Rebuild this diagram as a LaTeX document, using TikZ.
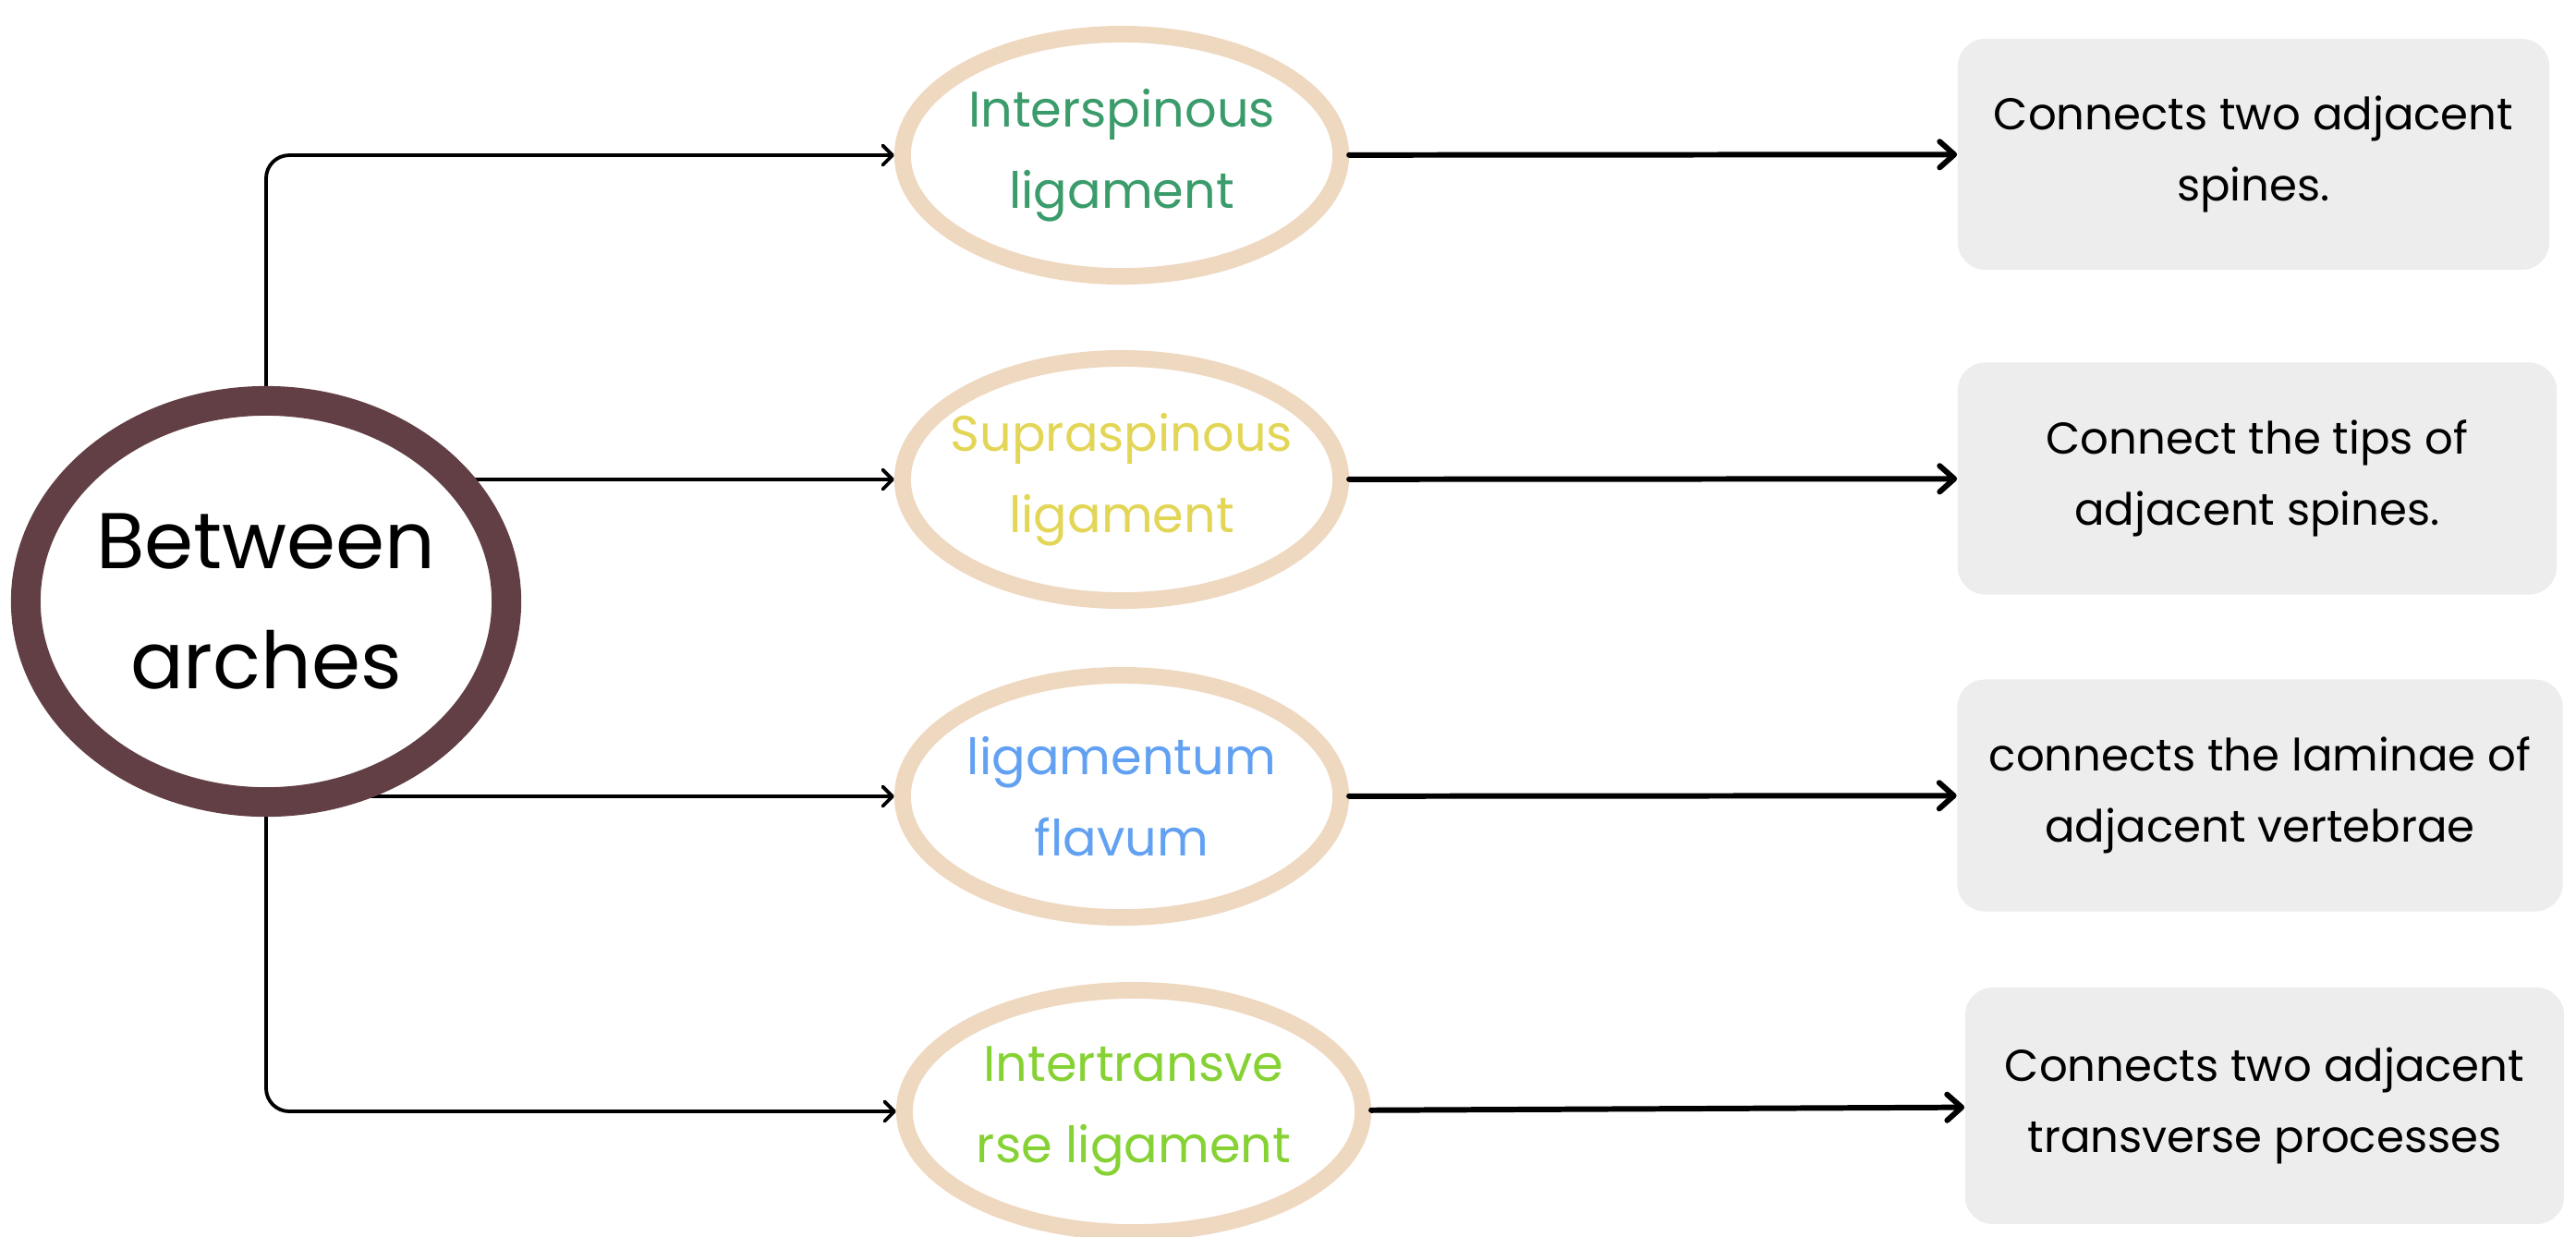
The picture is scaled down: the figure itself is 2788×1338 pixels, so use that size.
\documentclass[tikz,border=0pt]{standalone}
\usepackage{fontspec}
\setmainfont{Poppins}
\usetikzlibrary{shapes.geometric, arrows.meta, backgrounds}

\definecolor{archline}{RGB}{98,63,69}
\definecolor{peach}{RGB}{239,216,192}
\definecolor{boxgray}{RGB}{237,237,237}
\definecolor{ligA}{RGB}{58,155,107}
\definecolor{ligB}{RGB}{227,214,86}
\definecolor{ligC}{RGB}{98,161,242}
\definecolor{ligD}{RGB}{134,210,52}

\begin{document}
\begin{tikzpicture}[x=0.01cm, y=-0.01cm,
  hub/.style={ellipse, draw=archline, line width=9.1pt, fill=white, minimum width=5.2cm, minimum height=4.34cm, inner xsep=-0.5cm, inner ysep=0pt, align=center, font=\fontsize{24.3}{37}\selectfont},
  lig/.style={ellipse, draw=peach, line width=5.1pt, fill=white, minimum width=4.74cm, minimum height=2.62cm, inner xsep=-0.5cm, inner ysep=0pt, align=center, font=\fontsize{15.4}{25}\selectfont},
  desc/.style={rectangle, rounded corners=0.3cm, fill=boxgray, minimum height=2.5cm, inner sep=0pt, align=center, font=\fontsize{13.7}{21.9}\selectfont},
  link/.style={line width=1.1pt, -{Straight Barb[round, length=3pt, width=6pt]}},
  arr/.style={line width=1.7pt, line cap=round, -{Straight Barb[round, length=4.5pt, width=8pt]}}]
\useasboundingbox (0,0) rectangle (2788,1338);

\node[hub](main) at (288,651) {Between\\arches};

\node[lig, text=ligA](lig1) at (1214,168) {Interspinous\\ligament};
\node[lig, text=ligB](lig2) at (1214,519) {Supraspinous\\ligament};
\node[lig, text=ligC](lig3) at (1214,862) {ligamentum\\flavum};
\node[lig, text=ligD, minimum width=4.96cm](lig4) at (1227,1203) {Intertransve\\rse ligament};

\node[desc, minimum width=6.4cm](desc1) at (2439,167) {Connects two adjacent\\spines.};
\node[desc, minimum width=6.48cm, minimum height=2.51cm](desc2) at (2443,518) {Connect the tips of\\adjacent spines.};
\node[desc, minimum width=6.55cm, minimum height=2.51cm](desc3) at (2446,861) {connects the laminae of\\adjacent vertebrae};
\node[desc, minimum width=6.48cm, minimum height=2.56cm](desc4) at (2451,1197) {Connects two adjacent\\transverse processes};

\begin{scope}[on background layer]
\draw[link, rounded corners=0.25cm] (main.north) |- (lig1.west);
\draw[link] (main.center |- lig2.west) -- (lig2.west);
\draw[link] (main.center |- lig3.west) -- (lig3.west);
\draw[link, rounded corners=0.25cm] (main.south) |- (lig4.west);
\end{scope}

\path[arr](lig1)edge(desc1);
\path[arr](lig2)edge(desc2);
\path[arr](lig3)edge(desc3);
\path[arr](lig4)edge(desc4);
\end{tikzpicture}
\end{document}
